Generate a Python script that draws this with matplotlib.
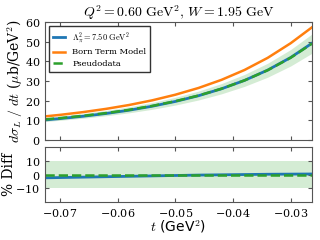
import matplotlib
matplotlib.use("Agg")
import matplotlib.pyplot as plt
import numpy as np

plt.rcParams["mathtext.fontset"] = "cm"
plt.rcParams["font.family"] = "DejaVu Serif"
plt.rcParams["axes.formatter.use_mathtext"] = True

# values
t = np.array([-0.0726, -0.07, -0.066, -0.062, -0.058, -0.054, -0.05,
              -0.046, -0.042, -0.038, -0.034, -0.030, -0.0263])
model = np.array([10.2, 10.87, 12.06, 13.47, 15.15, 17.17, 19.59,
                  22.49, 26.02, 30.30, 35.52, 41.94, 49.2])
born = np.array([12.0, 12.77, 14.17, 15.83, 17.80, 20.17, 23.02,
                 26.43, 30.57, 35.60, 41.74, 49.2, 57.3])
diff = np.array([-2.4, -2.2, -1.9, -1.6, -1.3, -1.0, -0.7,
                 -0.4, -0.2, 0.0, 0.2, 0.3, 0.4])
band_pct = 10.0

pseudo = model / (1 + diff / 100)

fig = plt.figure(figsize=(3.2, 2.4), dpi=100)
ax1 = fig.add_axes([0.1406, 0.4167, 0.8344, 0.4917])
ax2 = fig.add_axes([0.1406, 0.1583, 0.8344, 0.229])

ax1.fill_between(t, pseudo * (1 - band_pct / 100), pseudo * (1 + band_pct / 100),
                 color="C2", alpha=0.2, lw=0)
ax1.plot(t, model, color="C0", lw=2, label=r"$\Lambda_\pi^2 = 7.50\ \mathrm{GeV}^2$")
ax1.plot(t, born, color="C1", lw=1.8, label="Born Term Model")
ax1.plot(t, pseudo, color="C2", lw=1.8, ls="--", label="Pseudodata")

ax2.fill_between(t, -band_pct, band_pct, color="C2", alpha=0.2, lw=0)
ax2.plot(t, diff, color="C0", lw=2)
ax2.plot(t, np.zeros_like(t), color="C2", lw=1.8, ls="--")

for ax in (ax1, ax2):
    ax.set_xlim(-0.0726, -0.0263)
    ax.tick_params(direction="in", top=True, right=True, labelsize=8, length=3,
                   color="#555555")
    for s in ax.spines.values():
        s.set_color("#555555")
    ax.set_xticks([-0.07, -0.06, -0.05, -0.04, -0.03])

ax1.set_ylim(0, 60)
ax1.set_yticks([0, 10, 20, 30, 40, 50, 60])
ax1.tick_params(labelbottom=False)
ax1.set_ylabel(r"$d\sigma_L\ /\ dt$ ($\mu$b/GeV$^2$)", fontsize=10)
ax1.yaxis.set_label_coords(-0.08, 0.5)
ax1.set_title(r"$Q^2 = 0.60\ \mathrm{GeV}^2,\, W = 1.95\ \mathrm{GeV}$", fontsize=10, pad=3)
leg = ax1.legend(loc="upper left", fontsize=6, fancybox=False, framealpha=1,
                 handlelength=1.4, handletextpad=0.9, borderpad=0.45,
                 labelspacing=0.45)
leg.get_frame().set_edgecolor("#333333")

ax2.set_ylim(-20, 20)
ax2.set_yticks([-10, 0, 10])
ax2.set_ylabel("% Diff", fontsize=10)
ax2.yaxis.set_label_coords(-0.11, 0.5)
ax2.set_xlabel(r"$t$ (GeV$^2$)", fontsize=10, family="DejaVu Sans", labelpad=0)

fig.savefig("out.png", dpi=100)
